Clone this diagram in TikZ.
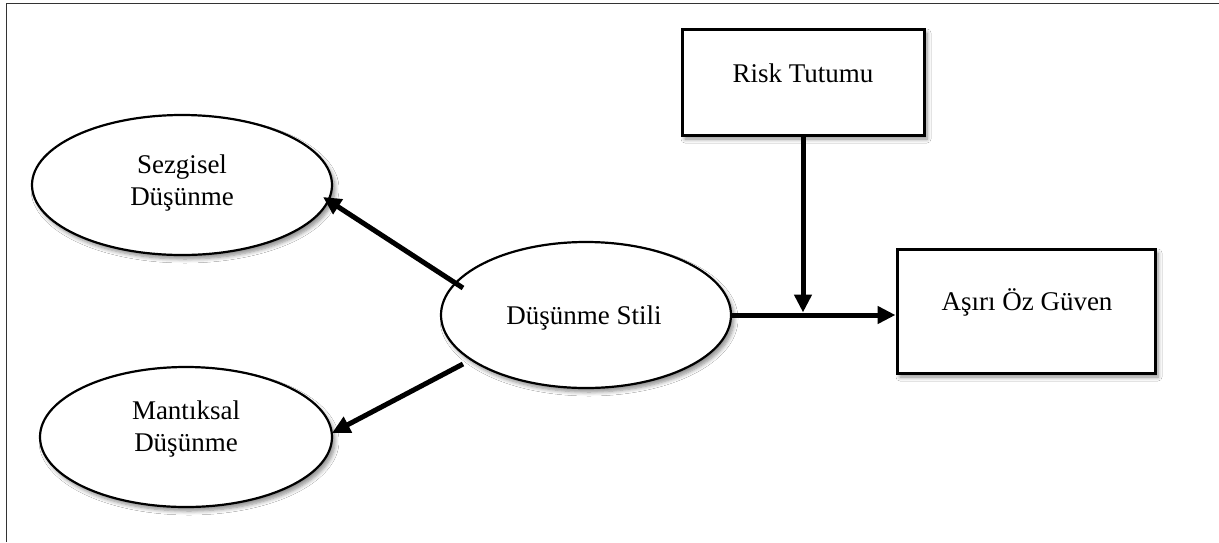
\documentclass[tikz,border=0pt]{standalone}
\usepackage{fontspec}
\setmainfont{Liberation Serif}
\usetikzlibrary{arrows.meta,shapes.geometric,shadows.blur}
\begin{document}
\begin{tikzpicture}[x=1pt,y=-1pt,
  shad/.style={blur shadow={shadow xshift=3pt,shadow yshift=-4pt,shadow blur steps=6,shadow opacity=45,shadow blur radius=4pt}},
  oval/.style={ellipse,draw,line width=2.2pt,fill=white,inner sep=0pt,shad},
  box/.style={rectangle,draw,line width=3pt,fill=white,inner sep=0pt,shad},
  txt/.style={font=\fontsize{27}{32}\selectfont,align=center,inner sep=0pt},
  conn/.style={line width=5pt,-{Triangle[length=18pt,width=17pt]}}
]
\useasboundingbox (0,0) rectangle (1219,542);
\fill[white] (0,0) rectangle (1219,542);
\draw[line width=1.5pt,black!80] (6.5,542) -- (6.5,3.5) -- (1219,3.5);

\node[oval,minimum width=300pt,minimum height=140pt] (sez) at (182,185) {};
\node[txt] (sezt) at (182,183) {Sezgisel\\Düşünme};

\node[oval,minimum width=292pt,minimum height=140pt] (man) at (186,437) {};
\node[txt] (mant) at (186,429) {Mantıksal\\Düşünme};

\node[oval,minimum width=290pt,minimum height=146pt] (ds) at (586,315) {};
\node[txt] (dst) at (584,318) {Düşünme Stili};

\node[box,minimum width=242pt,minimum height=106pt] (risk) at (803,82) {};
\node[txt] (riskt) at (803,73) {Risk Tutumu};

\node[box,minimum width=258pt,minimum height=124pt] (ag) at (1026,311) {};
\node[txt] (agt) at (1027,302) {Aşırı Öz Güven};

\draw[conn] ([shift={(-123,-27)}]ds.center) -- ([shift={(141,12)}]sez.center);
\draw[conn] ([shift={(-123,49)}]ds.center) -- ([shift={(146,-4)}]man.center);
\draw[conn] (ds.east) -- (ds.east -| ag.west);
\coordinate (j) at (risk.south |- ds.east);
\draw[conn,shorten >=2.5pt] (risk.south) -- (j);
\end{tikzpicture}
\end{document}
